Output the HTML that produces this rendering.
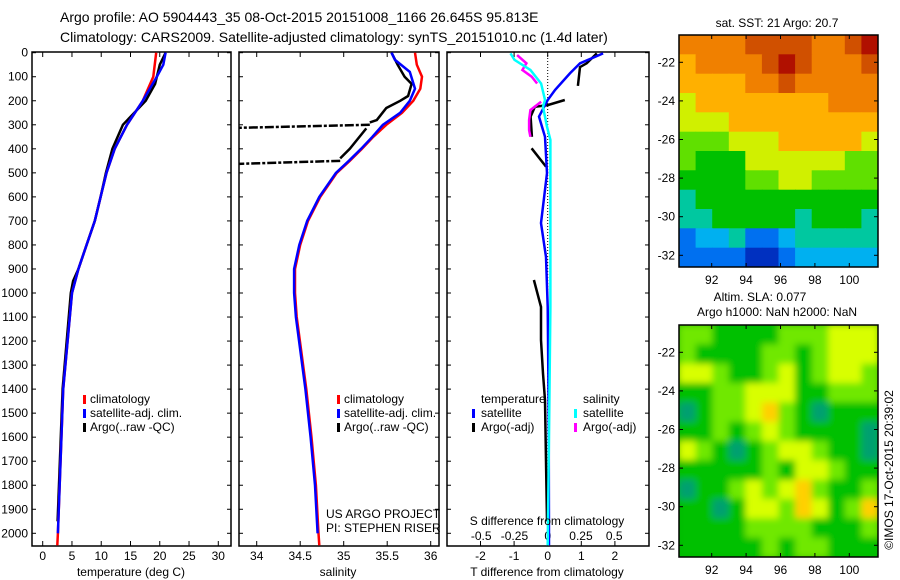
<!DOCTYPE html>
<html><head><meta charset="utf-8"><style>
html,body{margin:0;padding:0;background:#fff}
svg{display:block}
text{font-family:"Liberation Sans",sans-serif;fill:#000}
</style></head><body>
<svg id="c" width="900" height="580" xmlns="http://www.w3.org/2000/svg">
<defs>
<clipPath id="cp1"><rect x="32" y="52" width="199" height="494"/></clipPath>
<clipPath id="cp2"><rect x="239" y="52" width="200" height="494"/></clipPath>
<clipPath id="cp3"><rect x="447" y="52" width="202" height="494"/></clipPath>
<clipPath id="cpm1"><rect x="679" y="35" width="199" height="232"/></clipPath>
<clipPath id="cpm2"><rect x="679" y="325" width="199" height="232"/></clipPath>
<filter id="blur" x="-10%" y="-10%" width="120%" height="120%"><feGaussianBlur stdDeviation="3.5"/></filter>
</defs>
<text x="60" y="22" font-size="14">Argo profile: AO 5904443_35 08-Oct-2015 20151008_1166 26.645S 95.813E</text>
<text x="60" y="42" font-size="14">Climatology: CARS2009. Satellite-adjusted climatology: synTS_20151010.nc (1.4d later)</text>
<g id="g"></g>
</svg>
<script>
// ---------- data ----------
const climTdepth = [0,100,200,300,400,500,600,700,800,900,1000,1400,2000,2050];
const climT = [19.4,18.9,17.1,14.4,12.3,10.9,9.9,8.9,7.5,6.1,5.0,3.5,2.6,2.5];
const satTdepth = [0,50,100,150,200,300,400,500,600,700,800,900,1000,1400,2000];
const satT = [21.0,20.6,19.5,18.3,17.1,14.4,12.3,10.9,9.9,8.9,7.5,6.1,5.0,3.5,2.6];
const argoTdepth = [0,50,130,200,300,400,500,600,700,800,900,950,1000,1400,1950];
const argoT = [21.0,20.0,19.2,17.6,13.7,11.9,10.8,9.9,8.9,7.5,6.1,5.2,4.8,3.4,2.55];

const climSdepth = [0,50,100,150,200,250,300,350,400,450,500,600,700,800,900,1000,1100,1400,1600,1800,2000,2050];
const climS = [35.82,35.84,35.90,35.88,35.80,35.67,35.49,35.34,35.21,35.07,34.92,34.73,34.59,34.50,34.44,34.44,34.46,34.57,34.63,34.68,34.71,34.72];
const satSdepth = [0,30,80,150,200,250,300,350,400,450,500,600,700,800,900,1000,1100,1400,1600,1800,2000];
const satS = [35.55,35.59,35.76,35.82,35.76,35.65,35.45,35.33,35.20,35.06,34.91,34.72,34.58,34.49,34.43,34.43,34.45,34.56,34.62,34.67,34.70];
const argoSdepth = [0,50,100,130,180,200,230,280,290];
const argoS = [35.55,35.62,35.70,35.78,35.74,35.65,35.49,35.38,35.30];
const argoS2depth = [315,400,440];
const argoS2 = [35.26,35.07,34.96];
const spikeDepths = [300,450];
const spikeS = [35.30,34.96];
const spikeMin = 33.80;

const satTdDepth = [3,44,86,155,197,266,350,501,709,850,1058,1500,2050];
const satTd = [1.65,0.96,0.66,0.22,0,-0.26,-0.08,-0.02,-0.2,-0.05,0,0.03,0.04];
const argoTd1Depth = [3,44,60,138]; const argoTd1 = [1.46,1.16,0.96,0.9];
const argoTd2Depth = [197,218,225,266,350]; const argoTd2 = [0.51,0.0,-0.38,-0.51,-0.47];
const argoTd3Depth = [398,474]; const argoTd3 = [-0.48,-0.05];
const argoTd4Depth = [946,1058,1196,1335,1446,1950]; const argoTd4 = [-0.41,-0.2,-0.2,-0.14,-0.08,-0.02];
const satSdDepth = [3,30,72,128,197,225,308,363,501,1058,1600,2050];
const satSd = [-0.28,-0.25,-0.13,-0.05,-0.02,-0.035,-0.005,0.02,0.02,0.02,0.01,0.0];
const argoSd1Depth = [10,44,72,100,128]; const argoSd1 = [-0.23,-0.16,-0.19,-0.12,-0.08];
const argoSd2Depth = [204,239,280,322,350]; const argoSd2 = [-0.05,-0.13,-0.14,-0.14,-0.13];

const depthTicks = [0,100,200,300,400,500,600,700,800,900,1000,1100,1200,1300,1400,1500,1600,1700,1800,1900,2000];
const tTicks = [0,5,10,15,20,25,30];
const sTicks = [34,34.5,35,35.5,36];
const tdTicks = [-2,-1,0,1,2];
const sdTicks = [-0.5,-0.25,0,0.25,0.5];
const sdTickLabels = ["-0.5","-0.25","0","0.25","0.5"];
const lonTicks = [92,94,96,98,100];
const latTicks = [-22,-24,-26,-28,-30,-32];

const sstPalette = ["#0030c0","#0070f0","#00b0f0","#00c8a0","#00c000","#60e000","#d0f000","#ffb000","#f08000","#d05000","#b01000"];
const sstGrid = [
[8,8,8,8,9,9,9,9,8,8,9,10],
[7,8,8,8,8,9,10,9,8,8,8,9],
[7,7,7,7,8,8,9,8,8,8,8,8],
[6,7,7,7,7,7,7,7,7,8,8,8],
[6,6,6,7,7,7,7,7,7,7,7,7],
[5,5,5,6,6,6,7,7,7,7,7,6],
[5,4,4,4,6,6,6,6,6,6,5,5],
[4,4,4,4,5,5,6,6,5,5,5,5],
[3,4,4,4,4,4,4,4,4,4,4,4],
[3,3,4,4,4,4,4,3,4,4,4,3],
[1,2,2,3,1,1,2,3,3,3,3,3],
[1,1,1,1,0,0,1,2,2,2,2,2]];
const slaPalette = ["#00a070","#00c000","#70e800","#d8ff00","#ffd000"];
const slaGrid = [
[2,2,1,1,1,1,2,2,2,3,3,3],
[2,1,1,1,1,2,2,1,2,3,3,3],
[3,3,2,1,1,2,3,1,2,3,3,2],
[1,1,2,2,3,3,3,1,1,2,2,2],
[0,1,2,2,3,4,2,1,0,1,1,1],
[1,1,2,1,2,3,2,1,1,1,1,0],
[3,2,1,0,1,2,3,3,2,1,1,0],
[1,1,1,1,1,2,1,3,3,2,1,1],
[0,1,1,2,3,2,3,4,2,1,1,2],
[1,1,0,1,3,3,2,4,3,1,2,4],
[1,1,1,1,2,2,2,2,1,1,1,2],
[1,1,1,1,1,2,1,2,2,1,1,1]];

// ---------- helpers ----------
const NS="http://www.w3.org/2000/svg";
const G=document.getElementById('g');
function mk(tag,attrs,parent,txt){const e=document.createElementNS(NS,tag);for(const k in attrs)e.setAttribute(k,attrs[k]);if(txt!==undefined)e.textContent=txt;(parent||G).appendChild(e);return e;}
const yD = d => 52.7 + d*0.2403;
const xT = t => 42.7 + t*5.853;
const xS = s => 256.7 + (s-34)*87;
const xTd = v => 547.7 + v*33.6;
const xSd = v => 547.7 + v*133;
const lonX = lon => 711.7 + (lon-92)*17.2;
const latY1 = lat => 62.3 + (-22-lat)*19.3;
const latY2 = lat => 352.3 + (-22-lat)*19.3;

function line(xs,ds,fx,color,w,clip,name,dash){
  const pts=xs.map((v,i)=>fx(v).toFixed(1)+","+yD(ds[i]).toFixed(1)).join(" ");
  const e=mk('polyline',{points:pts,fill:"none",stroke:color,"stroke-width":w,"clip-path":"url(#"+clip+")"});
  if(dash)e.setAttribute('stroke-dasharray',dash);
  
  
}

function panel(x0,x1,name){
  const r=mk('rect',{x:x0,y:52,width:x1-x0,height:494,fill:"none",stroke:"#000","stroke-width":1.5});
  
  
  depthTicks.forEach(d=>{
    mk('line',{x1:x0,x2:x0+4,y1:yD(d),y2:yD(d),stroke:"#000"});
    mk('line',{x1:x1,x2:x1-4,y1:yD(d),y2:yD(d),stroke:"#000"});
  });
}
function xticks(ticks,fx,x0,x1,labels,ly,name){
  ticks.forEach((t,i)=>{
    const x=fx(t);
    mk('line',{x1:x,x2:x,y1:546,y2:541,stroke:"#000"});
    mk('line',{x1:x,x2:x,y1:52,y2:57,stroke:"#000"});
    if(labels){
      const e=mk('text',{x:x,y:ly,"font-size":12,"text-anchor":"middle"},null,labels[i]);
      
      
    }
  });
}

// ---------- panel 1: temperature ----------
panel(32,231,"temperature-panel");
depthTicks.forEach(d=>{
  const e=mk('text',{x:28,y:yD(d)+4,"font-size":12,"text-anchor":"end"},null,String(d));
  
  
});
xticks(tTicks,xT,32,231,tTicks.map(String),560,"temperature-tick-label");
line(argoT,argoTdepth,xT,"#000",2.5,"cp1","argo-temperature-line");
line(climT,climTdepth,xT,"#f00",2.5,"cp1","climatology-temperature-line");
line(satT,satTdepth,xT,"#00f",2.5,"cp1","satellite-temperature-line");

// ---------- panel 2: salinity ----------
panel(239,439,"salinity-panel");
xticks(sTicks,xS,239,439,["34","34.5","35","35.5","36"],560,"salinity-tick-label");
line(argoS,argoSdepth,xS,"#000",2.5,"cp2","argo-salinity-line");
line(argoS2,argoS2depth,xS,"#000",2.5,"cp2","argo-salinity-line-lower");
spikeDepths.forEach((d,i)=>{
  const e=mk('line',{x1:xS(spikeS[i]),x2:xS(spikeMin),y1:yD(d),y2:yD(d)+3,stroke:"#000","stroke-width":2.5,"stroke-dasharray":"9,2,3,2","clip-path":"url(#cp2)"});
  
  
});
line(climS,climSdepth,xS,"#f00",2.5,"cp2","climatology-salinity-line");
line(satS,satSdepth,xS,"#00f",2.5,"cp2","satellite-salinity-line");

// ---------- panel 3: differences ----------
panel(447,649,"difference-panel");
xticks(tdTicks,xTd,447,649,tdTicks.map(String),560,"t-difference-tick-label");
sdTicks.forEach((t,i)=>{
  const e=mk('text',{x:xSd(t),y:540,"font-size":12,"text-anchor":"middle"},null,sdTickLabels[i]);
  
  
});
{const e=mk('line',{x1:547.7,x2:547.7,y1:52,y2:546,stroke:"#000","stroke-width":1,"stroke-dasharray":"1,2"});

}
line(argoTd1,argoTd1Depth,xTd,"#000",2.5,"cp3","argo-t-diff-1");
line(argoTd2,argoTd2Depth,xTd,"#000",2.5,"cp3","argo-t-diff-2");
line(argoTd3,argoTd3Depth,xTd,"#000",2.5,"cp3","argo-t-diff-3");
line(argoTd4,argoTd4Depth,xTd,"#000",2.5,"cp3","argo-t-diff-4");
line(satTd,satTdDepth,xTd,"#00f",2.5,"cp3","satellite-t-diff");
line(argoSd1,argoSd1Depth,xSd,"#f0f",2.5,"cp3","argo-s-diff-1");
line(argoSd2,argoSd2Depth,xSd,"#f0f",2.5,"cp3","argo-s-diff-2");
line(satSd,satSdDepth,xSd,"#0ff",2.5,"cp3","satellite-s-diff");

// ---------- maps ----------
function map(grid,pal,y0,latY,clip,name,blur){
  const g=mk('g',{"clip-path":"url(#"+clip+")"});
  
  
  const inner=mk('g',blur?{filter:"url(#blur)"}:{},g);
  const cw=199/12, ch=232/12;
  if(blur){
    const pad=mk('rect',{x:669,y:y0-10,width:219,height:252,fill:"#00b800"},inner);
    
    
  }
  grid.forEach((row,r)=>row.forEach((v,c)=>{
    const cell=mk('rect',{x:(679+c*cw).toFixed(1),y:(y0+r*ch).toFixed(1),width:(cw+0.6).toFixed(1),height:(ch+0.6).toFixed(1),fill:pal[v]},inner);
    
    
  }));
  mk('rect',{x:679,y:y0,width:199,height:232,fill:"none",stroke:"#000","stroke-width":1.5});
  lonTicks.forEach(l=>{
    const x=lonX(l);
    mk('line',{x1:x,x2:x,y1:y0,y2:y0+4,stroke:"#000"});
    mk('line',{x1:x,x2:x,y1:y0+232,y2:y0+228,stroke:"#000"});
    const e=mk('text',{x:x,y:y0+249,"font-size":12,"text-anchor":"middle"},null,String(l));
    
    
  });
  latTicks.forEach(l=>{
    const y=latY(l);
    mk('line',{x1:679,x2:683,y1:y,y2:y,stroke:"#000"});
    mk('line',{x1:878,x2:874,y1:y,y2:y,stroke:"#000"});
    const e=mk('text',{x:675,y:y+4,"font-size":12,"text-anchor":"end"},null,String(l));
    
    
  });
}
map(sstGrid,sstPalette,35,latY1,"cpm1","sst-map",false);
map(slaGrid,slaPalette,325,latY2,"cpm2","sla-map",true);
</script>
<script>
(function(){
const NS="http://www.w3.org/2000/svg";const G=document.getElementById('g');
function t(x,y,s,txt,name,anchor,extra){const e=document.createElementNS(NS,'text');e.setAttribute('x',x);e.setAttribute('y',y);e.setAttribute('font-size',s);if(anchor)e.setAttribute('text-anchor',anchor);if(extra)for(const k in extra)e.setAttribute(k,extra[k]);e.textContent=txt;


G.appendChild(e);}
function m(x,y,c,name){const e=document.createElementNS(NS,'rect');e.setAttribute('x',x);e.setAttribute('y',y);e.setAttribute('width',3);e.setAttribute('height',9);e.setAttribute('fill',c);


G.appendChild(e);}
t(131,576,12,"temperature (deg C)","x-axis-title-temperature","middle");
t(338,576,12,"salinity","x-axis-title-salinity","middle");
t(547,576,12,"T difference from climatology","x-axis-title-t-difference","middle");
t(547,525,12,"S difference from climatology","s-difference-title","middle");
m(83,395,"#f00","legend-marker-climatology");t(90,403,12,"climatology","legend-entry-climatology");
m(83,409,"#00f","legend-marker-satellite");t(90,417,12,"satellite-adj. clim.","legend-entry-satellite");
m(83,423,"#000","legend-marker-argo");t(90,431,12,"Argo(..raw -QC)","legend-entry-argo");
m(337,395,"#f00","legend-marker-climatology");t(344,403,12,"climatology","legend-entry-climatology");
m(337,409,"#00f","legend-marker-satellite");t(344,417,12,"satellite-adj. clim.","legend-entry-satellite");
m(337,423,"#000","legend-marker-argo");t(344,431,12,"Argo(..raw -QC)","legend-entry-argo");
t(326,518,12,"US ARGO PROJECT","project-label");
t(326,532,12,"PI: STEPHEN RISER","pi-label");
t(481,403,12,"temperature","legend-heading-temperature");
t(583,403,12,"salinity","legend-heading-salinity");
m(472,409,"#00f","legend-marker-t-satellite");t(481,417,12,"satellite","legend-entry-t-satellite");
m(472,423,"#000","legend-marker-t-argo");t(481,431,12,"Argo(-adj)","legend-entry-t-argo");
m(574,409,"#0ff","legend-marker-s-satellite");t(583,417,12,"satellite","legend-entry-s-satellite");
m(574,423,"#f0f","legend-marker-s-argo");t(583,431,12,"Argo(-adj)","legend-entry-s-argo");
t(777,27,12,"sat. SST: 21 Argo: 20.7","sst-map-title","middle");
t(760,301,12,"Altim. SLA: 0.077","sla-map-title","middle");
t(777,316,12,"Argo h1000: NaN h2000: NaN","argo-height-label","middle");
t(893,470,12,"©IMOS 17-Oct-2015 20:39:02","imos-credit","middle",{transform:"rotate(-90 893 470)"});
})();
</script>
</body></html>
